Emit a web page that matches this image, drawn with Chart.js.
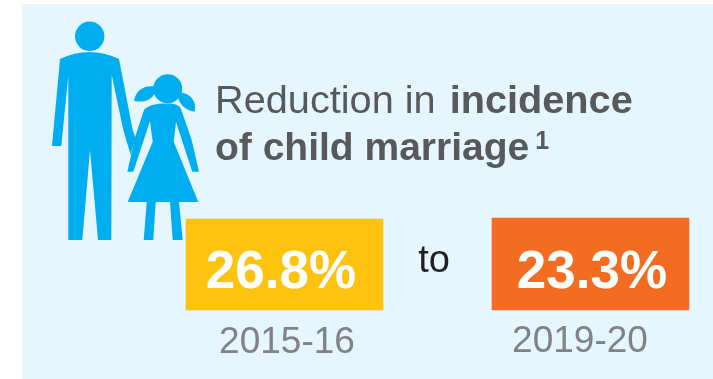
<!doctype html>
<html lang="en">
  <head>
    <meta charset="utf-8">
    <title>Reduction in incidence of child marriage</title>
    <script src="https://cdn.jsdelivr.net/npm/chart.js"></script>
    <style>
      html, body { margin: 0; padding: 0; background: #fff; overflow: hidden; }
      #wrap { width: 713px; height: 379px; }
    </style>
  </head>
  <body>
    <div id="wrap"><canvas id="myChart"></canvas></div>
    <script>
    const years = ['2015-16', '2019-20'];
    const incidence = [26.8, 23.3];
    const boxColors = ['#FFC20E', '#F36C21'];
    const joinWord = 'to';

    const FONT = '"Liberation Sans", Arial, sans-serif';
    const FIGURE = '#00AEEF';

    function poly(ctx, pts) {
        ctx.beginPath();
        pts.forEach((p, i) => i ? ctx.lineTo(p[0], p[1]) : ctx.moveTo(p[0], p[1]));
        ctx.closePath();
        ctx.fill();
    }

    function disc(ctx, x, y, r) {
        ctx.beginPath();
        ctx.arc(x, y, r, 0, Math.PI * 2);
        ctx.fill();
    }

    function drawMan(ctx) {
        disc(ctx, 89.7, 36.3, 14.7);
        ctx.beginPath();
        ctx.moveTo(60, 59);
        ctx.quadraticCurveTo(89.5, 45, 119, 59);
        ctx.lineTo(132.7, 130);
        ctx.lineTo(135.5, 138);
        ctx.lineTo(130.7, 155);
        ctx.lineTo(123.3, 130);
        ctx.lineTo(111.7, 75);
        ctx.lineTo(111.3, 240);
        ctx.lineTo(98, 240);
        ctx.lineTo(90, 150);
        ctx.lineTo(82.3, 240);
        ctx.lineTo(68.3, 240);
        ctx.lineTo(68.3, 76);
        ctx.lineTo(61.3, 146);
        ctx.lineTo(52, 146);
        ctx.closePath();
        ctx.fill();
    }

    function drawGirl(ctx) {
        disc(ctx, 167.7, 88.7, 14.5);
        // pigtails
        ctx.beginPath();
        ctx.moveTo(154, 86.5);
        ctx.bezierCurveTo(146, 85, 136, 89, 134, 100.7);
        ctx.bezierCurveTo(142, 103, 151, 101, 155, 93);
        ctx.closePath();
        ctx.fill();
        ctx.beginPath();
        ctx.moveTo(181, 92.5);
        ctx.bezierCurveTo(190, 93.5, 197, 101, 194.7, 111.7);
        ctx.bezierCurveTo(186, 110.5, 179, 105, 178, 96);
        ctx.closePath();
        ctx.fill();
        // dress and arms
        ctx.beginPath();
        ctx.moveTo(144, 110);
        ctx.bezierCurveTo(148, 105, 156, 103.5, 167.5, 103.5);
        ctx.bezierCurveTo(175, 103.5, 179, 105, 181, 109);
        ctx.lineTo(191.7, 140);
        ctx.lineTo(199, 171.7);
        ctx.lineTo(192.3, 171.7);
        ctx.lineTo(176, 122);
        ctx.lineTo(173.7, 141.7);
        ctx.lineTo(198.3, 202);
        ctx.lineTo(127.7, 202);
        ctx.lineTo(152.7, 141.7);
        ctx.lineTo(150, 121);
        ctx.lineTo(133.3, 171.7);
        ctx.lineTo(127.3, 171.7);
        ctx.lineTo(135.7, 135);
        ctx.closePath();
        ctx.fill();
        // legs
        poly(ctx, [[146.7, 202], [155.7, 202], [153.3, 240], [143.7, 240]]);
        poly(ctx, [[170, 202], [179, 202], [182.7, 240], [172.7, 240]]);
    }

    // background panel and the two figures go under the bars
    const backdrop = {
        id: 'backdrop',
        beforeDraw: (chart) => {
            const ctx = chart.ctx;
            ctx.save();
            ctx.fillStyle = '#E5F6FE';
            ctx.fillRect(22, 4, 691, 375);
            ctx.fillStyle = FIGURE;
            drawMan(ctx);
            drawGirl(ctx);
            ctx.restore();
        }
    };

    // heading, value labels and year captions
    const captions = {
        id: 'captions',
        afterDraw: (chart) => {
            const ctx = chart.ctx;
            ctx.save();
            ctx.textBaseline = 'alphabetic';
            ctx.textAlign = 'left';

            ctx.fillStyle = '#58595B';
            ctx.font = '39.7px ' + FONT;
            ctx.fillText('Reduction in ', 215, 113);
            const w = ctx.measureText('Reduction in ').width;
            ctx.font = 'bold 39.7px ' + FONT;
            ctx.fillText('incidence', 218 + w, 113);
            ctx.font = 'bold 39px ' + FONT;
            ctx.fillText('of child marriage', 215, 160);
            const w2 = ctx.measureText('of child marriage').width;
            ctx.font = 'bold 25px ' + FONT;
            ctx.fillText('1', 221 + w2, 148.5);

            ctx.textAlign = 'center';
            ctx.fillStyle = '#231F20';
            ctx.font = '38px ' + FONT;
            ctx.fillText(joinWord, 434, 272);

            const valueX = [-3.5, 1.5];
            const yearX = [2.5, -10.5];
            const yearY = [353, 352];
            incidence.forEach((v, i) => {
                const bar = chart.getDatasetMeta(i).data[i];
                ctx.fillStyle = '#fff';
                ctx.font = 'bold 53px ' + FONT;
                ctx.fillText(v.toFixed(1) + '%', bar.x + valueX[i], 288);
                ctx.fillStyle = '#808285';
                ctx.font = '37px ' + FONT;
                ctx.fillText(years[i], bar.x + yearX[i], yearY[i]);
            });
            ctx.restore();
        }
    };

    const myChart = new Chart(document.getElementById('myChart'), {
        type: 'bar',
        data: {
            labels: years,
            // each box is read against its own axis, so both come out the same size
            datasets: incidence.map((v, i) => ({
                data: years.map((y, j) => j === i ? v : null),
                backgroundColor: boxColors[i],
                yAxisID: 'y' + i,
                barThickness: 197,
                grouped: false,
                clip: false
            }))
        },
        plugins: [backdrop, captions],
        options: {
            responsive: true,
            maintainAspectRatio: false,
            animation: false,
            layout: { padding: { left: 284.5, right: 122.5, top: 218, bottom: 69 } },
            plugins: { legend: { display: false }, tooltip: { enabled: false } },
            scales: {
                x: { display: false, offset: false },
                y0: { display: false, min: 0, max: 27.09 },
                y1: { display: false, min: 0, max: 23.3 }
            }
        }
    });
    </script>
  </body>
</html>
